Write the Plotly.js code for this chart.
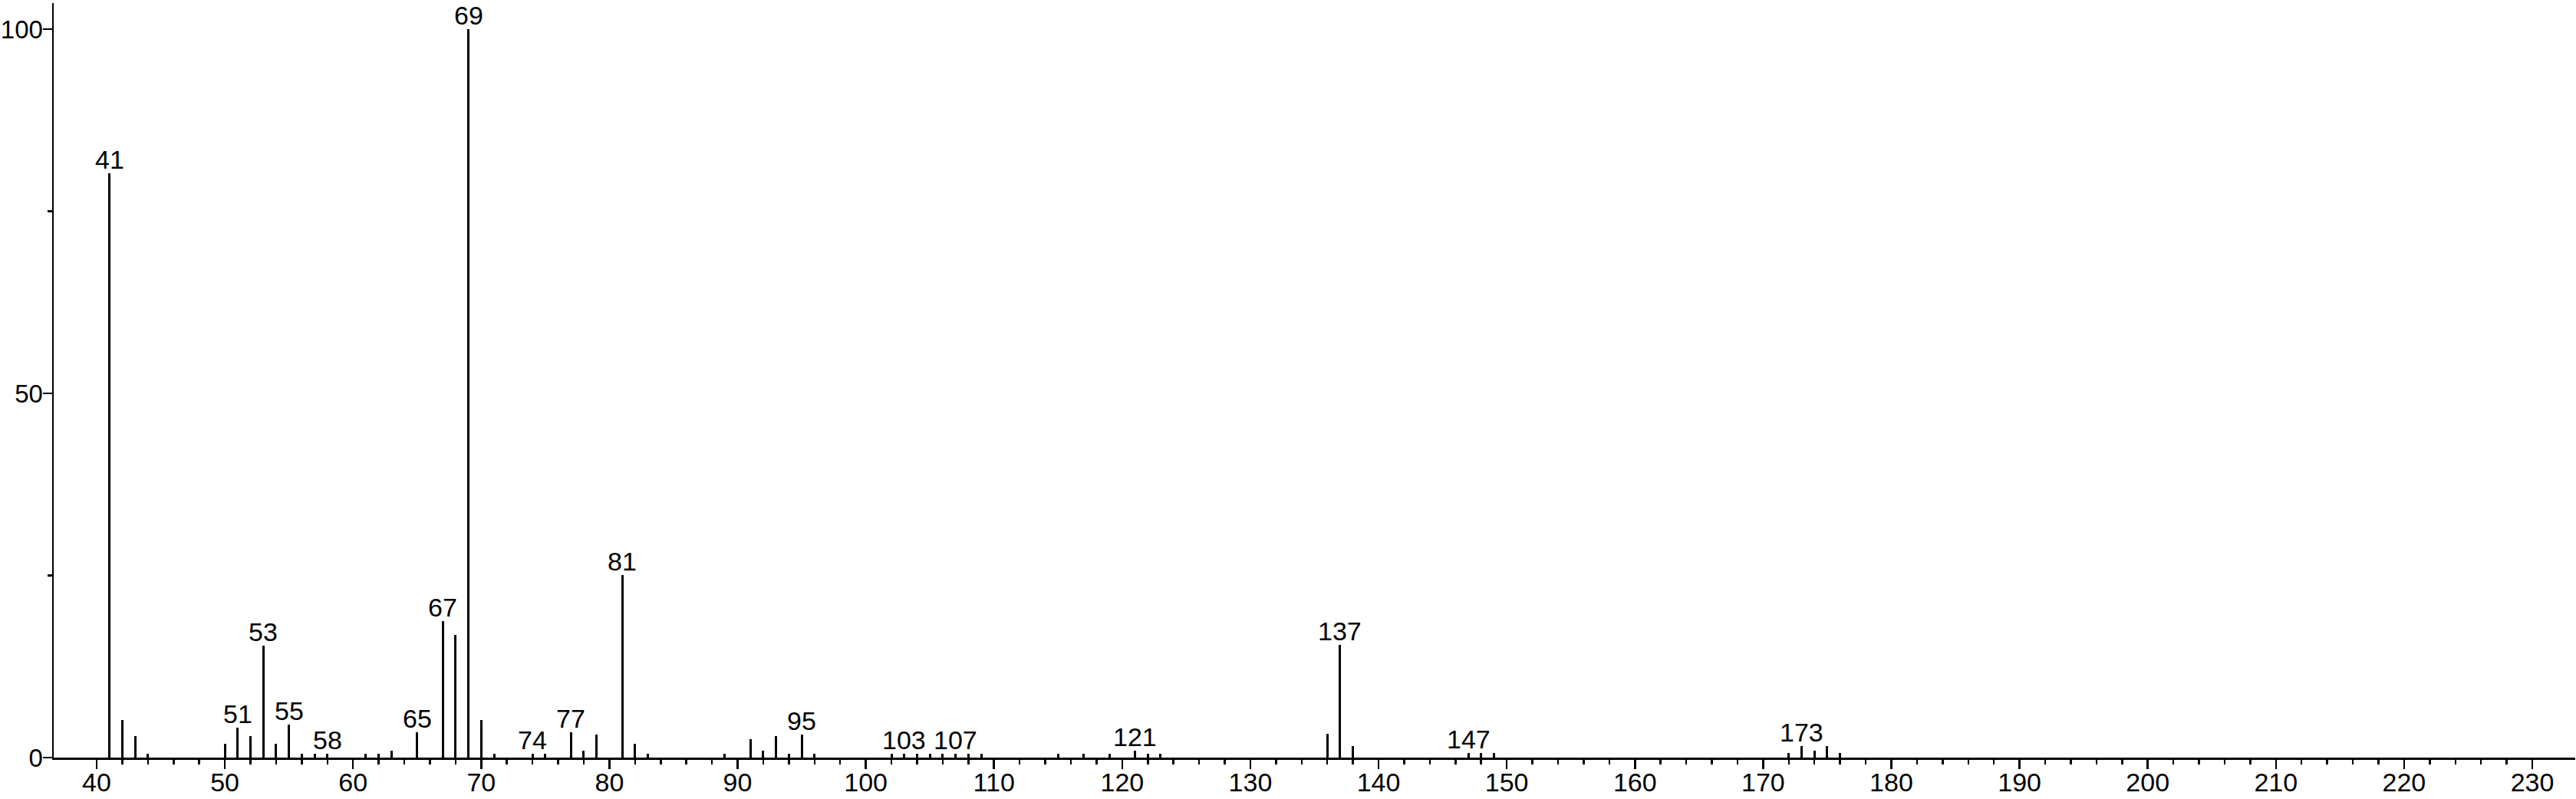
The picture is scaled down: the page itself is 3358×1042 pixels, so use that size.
<!DOCTYPE html>
<html>
<head>
<meta charset="utf-8">
<script src="https://cdn.plot.ly/plotly-3.0.1.min.js"></script>
<style>
  html, body { margin: 0; padding: 0; background: #ffffff; }
  #chart { width: 3358px; height: 1042px; }
</style>
</head>
<body>
<div id="chart"></div>
<script>
// m/z values of the peaks
const mz = [41, 42, 43, 44, 50, 51, 52, 53, 54, 55, 56, 57, 58, 61, 62, 63, 65,
  67, 68, 69, 70, 71, 74, 75, 77, 78, 79, 81, 82, 83, 89, 91, 92, 93, 94, 95, 96,
  102, 103, 104, 105, 106, 107, 108, 109, 115, 117, 119, 121, 122, 123,
  136, 137, 138, 147, 148, 149, 172, 173, 174, 175, 176];
// relative intensities (%)
const intensity = [80.2, 5.2, 2.9, 0.5, 1.9, 4.1, 2.9, 15.4, 1.9, 4.5, 0.5, 0.5, 0.5, 0.5, 0.5, 0.9, 3.5,
  18.7, 16.8, 100, 5.2, 0.5, 0.5, 0.5, 3.5, 0.9, 3.2, 25.1, 1.9, 0.5, 0.5, 2.5, 0.9, 2.9, 0.5, 3.2, 0.5,
  0.5, 0.5, 0.5, 0.5, 0.5, 0.5, 0.5, 0.5, 0.5, 0.5, 0.5, 0.9, 0.5, 0.5,
  3.3, 15.5, 1.6, 0.6, 0.6, 0.6, 0.6, 1.6, 0.9, 1.6, 0.6];
// peaks that carry a label
const labeledPeaks = [41, 51, 53, 55, 58, 65, 67, 69, 74, 77, 81, 95, 103, 107, 121, 137, 147, 173];
// axis tick labels
const xTickVals = [40, 50, 60, 70, 80, 90, 100, 110, 120, 130, 140, 150, 160, 170, 180, 190, 200, 210, 220, 230];
const yTickVals = [0, 50, 100];

const FONT = 'Liberation Sans, Arial, Helvetica, sans-serif';
const FSIZE = 34;

const minorX = [];
for (let v = xTickVals[0]; v <= xTickVals[xTickVals.length - 1]; v += 2) {
  if (v % 10 !== 0) minorX.push(v);
}

const annotations = labeledPeaks.map(function (m) {
  const i = mz.indexOf(m);
  return {
    x: m, y: intensity[i], xref: 'x', yref: 'y',
    text: String(m), showarrow: false,
    xanchor: 'center', yanchor: 'bottom',
    yshift: -3,
    font: { family: FONT, size: FSIZE, color: '#000000' }
  };
});

const trace = {
  type: 'bar',
  x: mz,
  y: intensity,
  width: 0.18,
  marker: { color: '#000000', line: { width: 0 } },
  hoverinfo: 'x+y'
};

const layout = {
  width: 3358,
  height: 1042,
  margin: { l: 70, r: 1, t: 4, b: 54 },
  paper_bgcolor: '#ffffff',
  plot_bgcolor: '#ffffff',
  showlegend: false,
  bargap: 0,
  font: { family: FONT, size: FSIZE, color: '#000000' },
  xaxis: {
    range: [36.65, 233.35],
    tickmode: 'array',
    tickvals: xTickVals,
    ticktext: xTickVals.map(String),
    ticks: 'outside',
    ticklen: 12,
    tickwidth: 2.5,
    tickcolor: '#000000',
    ticklabelstandoff: -11,
    showline: true,
    linecolor: '#000000',
    linewidth: 2.5,
    showgrid: false,
    zeroline: false,
    tickfont: { family: FONT, size: FSIZE, color: '#000000' },
    minor: {
      tickmode: 'array',
      tickvals: minorX,
      ticks: 'outside',
      ticklen: 6,
      tickwidth: 2.5,
      tickcolor: '#000000',
      showgrid: false
    }
  },
  yaxis: {
    range: [0, 103.6],
    tickmode: 'array',
    tickvals: yTickVals,
    ticktext: yTickVals.map(String),
    ticks: 'outside',
    ticklen: 12,
    tickwidth: 2.5,
    tickcolor: '#000000',
    ticklabelstandoff: -7,
    showline: true,
    linecolor: '#000000',
    linewidth: 2.5,
    showgrid: false,
    zeroline: false,
    tickfont: { family: FONT, size: 33, color: '#000000' },
    minor: {
      dtick: 25,
      tick0: 0,
      ticks: 'outside',
      ticklen: 6,
      tickwidth: 2.5,
      tickcolor: '#000000',
      showgrid: false
    }
  },
  annotations: annotations
};

Plotly.newPlot('chart', [trace], layout, { displayModeBar: false, staticPlot: true });
</script>
</body>
</html>
